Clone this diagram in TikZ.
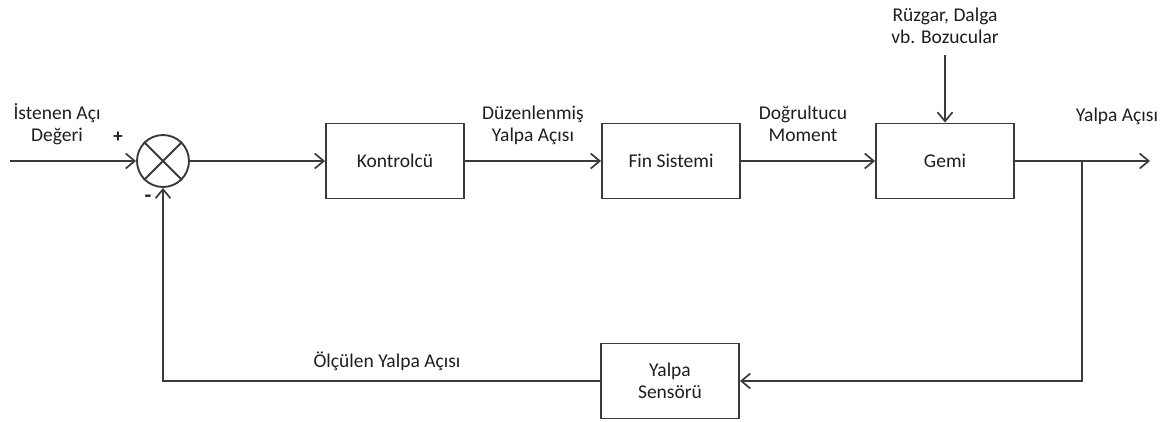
\documentclass[tikz,border=0pt]{standalone}
\usepackage{fontspec}
\setmainfont{Carlito}
\usetikzlibrary{arrows.meta}
\definecolor{linec}{HTML}{3A3A3A}
\definecolor{textc}{HTML}{1E1E1E}
\begin{document}
\begin{tikzpicture}[x=1pt,y=-1pt,
  txt/.style={font=\fontsize{19.5}{22}\selectfont, text=textc, align=center, inner sep=0pt},
  block/.style={txt, draw=linec, line width=1.9pt, minimum width=138pt, minimum height=75pt},
  conn/.style={draw=linec, line width=1.9pt, -{Straight Barb[length=9pt,width=15pt,line width=1.7pt]}},
  plain/.style={draw=linec, line width=1.9pt}]
\useasboundingbox (0,0) rectangle (1169,421);
% blocks
\node[circle, draw=linec, line width=1.9pt, minimum size=52pt, inner sep=0pt] (sum) at (163,161) {};
\node[block] (ctrl) at (395,161) {Kontrolcü};
\node[block] (fin) at (671,161) {Fin Sistemi};
\node[block] (gemi) at (945,161) {Gemi};
\node[block] (sens) at (670,381) {Yalpa\\Sensörü};
% coordinates
\coordinate (in) at (10,161);
\coordinate (dist) at (945,55);
\coordinate (out) at (1150,161);
\coordinate (br) at (1082,161);
% cross in summing junction
\draw[plain] (sum.north west) -- (sum.south east);
\draw[plain] (sum.north east) -- (sum.south west);
% connectors
\draw[conn] (in) -- (sum.west);
\draw[conn] (sum.east) -- (ctrl.west);
\draw[conn] (ctrl.east) -- (fin.west);
\draw[conn] (fin.east) -- (gemi.west);
\draw[conn] (dist) -- (gemi.north);
\draw[conn] (gemi.east) -- (out);
\draw[conn] (br) |- (sens.east);
\draw[conn] (sens.west) -| (sum.south);
% labels
\node[txt] (lin) at (57,124) {İstenen Açı\\Değeri};
\node[txt, font=\fontsize{19}{22}\selectfont\bfseries] (plus) at (118,137) {+};
\node[txt, font=\fontsize{22}{22}\selectfont\bfseries] (minus) at (148,199) {-};
\node[txt] (lduz) at (533,125) {Düzenlenmiş\\Yalpa Açısı};
\node[txt] (ldog) at (803,124) {Doğrultucu\\Moment};
\node[txt] (ldist) at (945,26) {Rüzgar, Dalga\\vb. Bozucular};
\node[txt] (lout) at (1117,116) {Yalpa Açısı};
\node[txt] (lmeas) at (387,361) {Ölçülen Yalpa Açısı};
\end{tikzpicture}
\end{document}
